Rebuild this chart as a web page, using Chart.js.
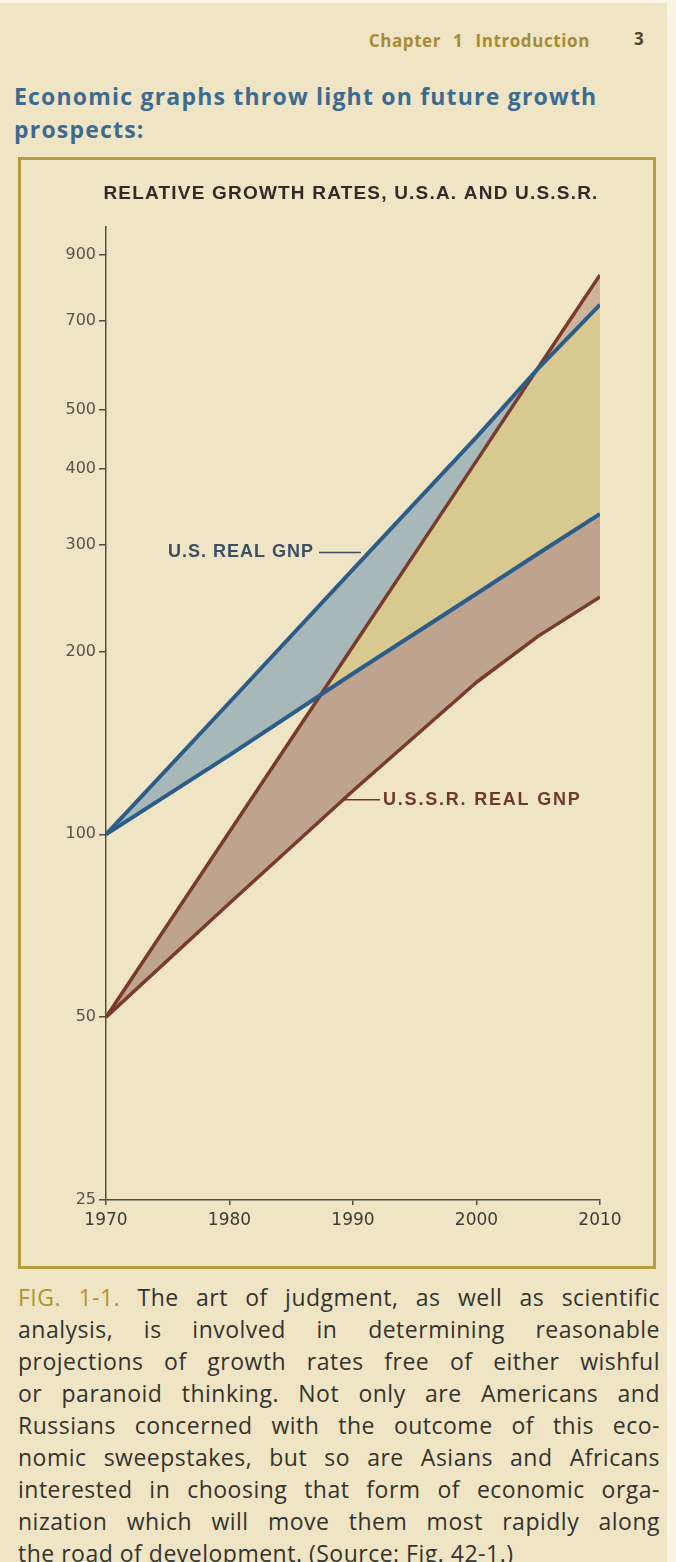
<!DOCTYPE html>
<html>
<head>
<meta charset="utf-8">
<script src="https://cdn.jsdelivr.net/npm/chart.js@4.4.1/dist/chart.umd.min.js"></script>
<style>
  html, body { margin: 0; padding: 0; background: #f8f4e6; }
  body { width: 676px; height: 1562px; position: relative; overflow: hidden; font-family: 'Liberation Sans', Arial, sans-serif; }
  #page { position: absolute; left: 0; top: 3px; width: 667px; height: 1559px; background: #efe5c4; }
  #chapter { position: absolute; right: 77px; top: 26px; font-family: 'Open Sans', sans-serif; font-weight: bold; font-size: 17px; color: #a68c35; word-spacing: 7px; letter-spacing: 0.6px; }
  #pageno { position: absolute; left: 634px; top: 24px; font-family: 'Open Sans', sans-serif; font-weight: bold; font-size: 17px; color: #4d4424; }
  #heading { position: absolute; left: 14px; top: 77px; font-family: 'Open Sans', sans-serif; font-weight: bold; font-size: 23px; line-height: 33px; color: #3d6a91; letter-spacing: 1.2px; }
  #frame { position: absolute; left: 18px; top: 154px; width: 632px; height: 1106px; border: 3px solid #b49c3c; }
  #chartBox { position: relative; width: 632px; height: 1106px; }
  #caption { position: absolute; left: 18px; top: 1278px; width: 642px; font-family: 'Open Sans', sans-serif; font-size: 23px; line-height: 32px; color: #34332e; letter-spacing: 0.5px; }
  #caption div { text-align: justify; text-align-last: justify; white-space: nowrap; }
  #caption div.last { text-align-last: left; }
  .fig { color: #b0942f; }
</style>
</head>
<body>
<div id="page">
  <div id="chapter">Chapter 1 Introduction</div>
  <div id="pageno">3</div>
  <div id="heading">Economic graphs throw light on future growth<br>prospects:</div>
  <div id="frame"><div id="chartBox"><canvas id="growth"></canvas></div></div>
  <div id="caption">
    <div><span class="fig">FIG. 1-1.</span> The art of judgment, as well as scientific</div>
    <div>analysis, is involved in determining reasonable</div>
    <div>projections of growth rates free of either wishful</div>
    <div>or paranoid thinking. Not only are Americans and</div>
    <div>Russians concerned with the outcome of this eco-</div>
    <div>nomic sweepstakes, but so are Asians and Africans</div>
    <div>interested in choosing that form of economic orga-</div>
    <div>nization which will move them most rapidly along</div>
    <div class="last">the road of development. (Source: Fig. 42-1.)</div>
  </div>
</div>

<script>
// values (index, log scale)
const years    = [1970, 1980, 1990, 2000, 2005, 2010];
const usHigh   = [100, 165, 273, 451, 585, 745];
const usLow    = [100, 135, 184, 249, 290, 337];
const ussrHigh = [50, 101, 204, 412, 587, 834];
const ussrLow  = [50, 77, 118, 178, 212, 246];

const yTicks = [25, 50, 100, 200, 300, 400, 500, 700, 900];
const xTicks = [1970, 1980, 1990, 2000, 2010];

const chartTitle = 'RELATIVE GROWTH RATES, U.S.A. AND U.S.S.R.';
const usLabel = 'U.S. REAL GNP';
const ussrLabel = 'U.S.S.R. REAL GNP';

const blueLine = '#2c5d8a';
const brownLine = '#7a3b2b';
const blueFill = '#a8b8b8';
const brownFill = '#bea38f';
const overlapFill = '#d8c991';
const axisColor = '#4f4e47';
const none = 'rgba(0,0,0,0)';

const pts = (vals) => vals.map((v, i) => ({ x: years[i], y: v }));

// chart title and series labels with their short leader lines
const annotations = {
    id: 'annotations',
    afterDatasetsDraw(chart) {
        const { ctx, chartArea, scales: { x, y } } = chart;
        ctx.save();
        ctx.textBaseline = 'middle';

        ctx.font = 'bold 19px "Liberation Sans", Arial, sans-serif';
        ctx.letterSpacing = '1.2px';
        ctx.fillStyle = '#2f2d28';
        ctx.textAlign = 'center';
        ctx.fillText(chartTitle, (chartArea.left + chartArea.right) / 2 - 2, 34);

        ctx.font = 'bold 18px "Liberation Sans", Arial, sans-serif';
        ctx.letterSpacing = '1px';
        ctx.lineWidth = 1.5;

        let px = x.getPixelForValue(years[2]);
        let py = y.getPixelForValue(usHigh[2]) - 17;
        ctx.strokeStyle = '#3b4e66';
        ctx.fillStyle = '#3b4e66';
        ctx.beginPath(); ctx.moveTo(px - 34, py); ctx.lineTo(px + 8, py); ctx.stroke();
        ctx.textAlign = 'right';
        ctx.fillText(usLabel, px - 39, py);

        px = x.getPixelForValue(years[2]);
        py = y.getPixelForValue(ussrLow[2]) + 9;
        ctx.letterSpacing = '1.8px';
        ctx.strokeStyle = '#6e3a2a';
        ctx.fillStyle = '#6e3a2a';
        ctx.beginPath(); ctx.moveTo(px - 12, py); ctx.lineTo(px + 27, py); ctx.stroke();
        ctx.textAlign = 'left';
        ctx.fillText(ussrLabel, px + 30, py);
        ctx.restore();
    }
};

new Chart(document.getElementById('growth'), {
    type: 'line',
    data: {
        datasets: [
            { label: 'USSR low', data: pts(ussrLow), borderColor: brownLine, borderWidth: 3.5, fill: false, order: 0 },
            { label: 'USSR high', data: pts(ussrHigh), borderColor: brownLine, borderWidth: 3.5,
              fill: { target: 0, above: brownFill, below: brownFill }, order: 4 },
            { label: 'US low', data: pts(usLow), borderColor: blueLine, borderWidth: 4, fill: false, order: 0 },
            { label: 'US high', data: pts(usHigh), borderColor: blueLine, borderWidth: 4,
              fill: { target: 2, above: blueFill, below: blueFill }, order: 3 },
            // overlap of the two bands
            { label: 'overlap', data: pts(ussrHigh), borderWidth: 0, borderColor: none,
              fill: { target: 2, above: overlapFill, below: none }, order: 2 },
            { label: 'USSR above US', data: pts(ussrHigh), borderWidth: 0, borderColor: none,
              fill: { target: 3, above: '#cdb39c', below: none }, order: 1 }
        ]
    },
    options: {
        responsive: true,
        maintainAspectRatio: false,
        animation: false,
        elements: { point: { radius: 0 }, line: { tension: 0, borderJoinStyle: 'round' } },
        layout: { padding: { left: 0, right: 53, top: 67, bottom: 0 } },
        plugins: {
            legend: { display: false },
            tooltip: { enabled: false },
            filler: { drawTime: 'beforeDatasetsDraw' },
            title: { display: false }
        },
        scales: {
            x: {
                type: 'linear',
                min: 1970,
                max: 2010,
                afterFit: (s) => { s.height = 66; },
                afterBuildTicks: (s) => { s.ticks = xTicks.map(v => ({ value: v })); },
                ticks: {
                    color: '#3d3c37',
                    font: { family: '"DejaVu Sans", sans-serif', size: 17 },
                    padding: 5,
                    maxRotation: 0,
                    callback: (v) => String(v)
                },
                grid: { drawOnChartArea: false, drawTicks: true, tickLength: 5, color: axisColor, lineWidth: 1.5 },
                border: { display: true, color: axisColor, width: 1.5 }
            },
            y: {
                type: 'logarithmic',
                min: 25,
                max: 1000,
                afterFit: (s) => { s.width = 85; },
                afterBuildTicks: (s) => { s.ticks = yTicks.map(v => ({ value: v })); },
                ticks: {
                    color: '#55544e',
                    font: { family: '"DejaVu Sans", sans-serif', size: 16 },
                    padding: 3,
                    callback: (v) => String(v)
                },
                grid: { drawOnChartArea: false, drawTicks: true, tickLength: 7, color: axisColor, lineWidth: 1.5 },
                border: { display: true, color: axisColor, width: 1.5 }
            }
        }
    },
    plugins: [annotations]
});
</script>
</body>
</html>
